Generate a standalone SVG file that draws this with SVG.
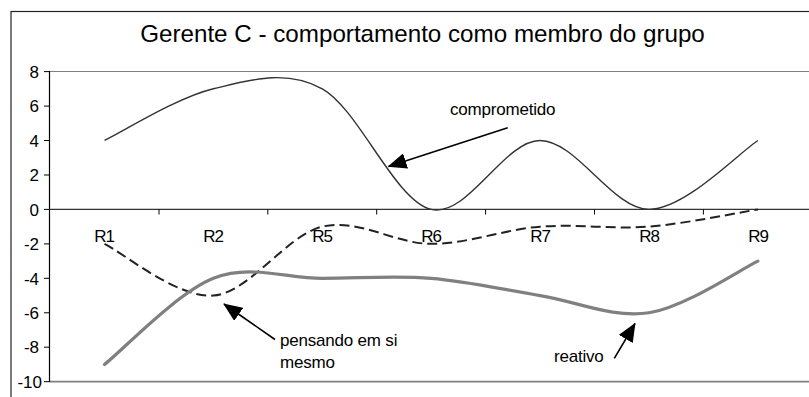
<svg xmlns="http://www.w3.org/2000/svg" width="809" height="397" viewBox="0 0 809 397">
<style>
text{font-family:"Liberation Sans",Arial,sans-serif;fill:#000}
.ylab{font-size:17px;text-anchor:end}
.xlab{font-size:17px;text-anchor:middle;letter-spacing:-1.2px}
.note{font-size:17px;letter-spacing:-0.2px}
.tick{stroke:#000;stroke-width:1}
.arrow{stroke:#000;stroke-width:1.6;fill:none}
</style>
<defs>
<marker id="ah" viewBox="0 0 19 16" refX="18" refY="8" markerWidth="19" markerHeight="16" markerUnits="userSpaceOnUse" orient="auto">
<path d="M0,0 L19,8 L0,16 z" fill="#000"/>
</marker>
</defs>
<rect width="809" height="397" fill="#fff"/>
<rect id="chart-border" x="11" y="11.5" width="830" height="420" fill="none" stroke="#222" stroke-width="1.2"/>
<text id="title" x="422.5" y="41.5" font-size="24.2" text-anchor="middle">Gerente C - comportamento como membro do grupo</text>
<g id="plot-frame">
<line x1="49.5" y1="71.5" x2="809" y2="71.5" stroke="#808080" stroke-width="1.2"/>
<line x1="49.5" y1="381.7" x2="809" y2="381.7" stroke="#808080" stroke-width="1.8"/>
<line x1="49.5" y1="71" x2="49.5" y2="382" stroke="#000" stroke-width="1.2"/>
<line x1="49.5" y1="209.4" x2="809" y2="209.4" stroke="#333" stroke-width="1.2"/>
</g>
<g id="y-axis">
<line class="tick" x1="44" y1="71.6" x2="49.5" y2="71.6"/>
<line class="tick" x1="44" y1="106.1" x2="49.5" y2="106.1"/>
<line class="tick" x1="44" y1="140.5" x2="49.5" y2="140.5"/>
<line class="tick" x1="44" y1="175" x2="49.5" y2="175"/>
<line class="tick" x1="44" y1="209.4" x2="49.5" y2="209.4"/>
<line class="tick" x1="44" y1="243.9" x2="49.5" y2="243.9"/>
<line class="tick" x1="44" y1="278.3" x2="49.5" y2="278.3"/>
<line class="tick" x1="44" y1="312.8" x2="49.5" y2="312.8"/>
<line class="tick" x1="44" y1="347.2" x2="49.5" y2="347.2"/>
<line class="tick" x1="44" y1="381.7" x2="49.5" y2="381.7"/>
<text class="ylab" x="39" y="77.8">8</text>
<text class="ylab" x="39" y="112.3">6</text>
<text class="ylab" x="39" y="146.7">4</text>
<text class="ylab" x="39" y="181.2">2</text>
<text class="ylab" x="39" y="215.6">0</text>
<text class="ylab" x="39" y="250.1">-2</text>
<text class="ylab" x="39" y="284.5">-4</text>
<text class="ylab" x="39" y="319">-6</text>
<text class="ylab" x="39" y="353.4">-8</text>
<text class="ylab" x="42" y="387.9">-10</text>
</g>
<g id="x-axis">
<line class="tick" x1="159" y1="209.4" x2="159" y2="214.5"/>
<line class="tick" x1="267.8" y1="209.4" x2="267.8" y2="214.5"/>
<line class="tick" x1="376.7" y1="209.4" x2="376.7" y2="214.5"/>
<line class="tick" x1="485.6" y1="209.4" x2="485.6" y2="214.5"/>
<line class="tick" x1="594.5" y1="209.4" x2="594.5" y2="214.5"/>
<line class="tick" x1="703.4" y1="209.4" x2="703.4" y2="214.5"/>
<text class="xlab" x="104" y="242">R1</text>
<text class="xlab" x="213" y="242">R2</text>
<text class="xlab" x="322" y="242">R5</text>
<text class="xlab" x="431" y="242">R6</text>
<text class="xlab" x="540" y="242">R7</text>
<text class="xlab" x="649" y="242">R8</text>
<text class="xlab" x="758" y="242">R9</text>
</g>
<g id="series-comprometido">
<path d="M104.5,140.48 C122.65,131.87 177.1,97.41 213.4,88.79 C249.7,80.18 286.0,68.69 322.3,88.79 C358.6,108.89 394.9,200.79 431.2,209.4 C467.5,218.02 503.8,140.48 540.1,140.48 C576.4,140.48 612.7,209.4 649.0,209.4 C685.3,209.4 739.75,151.97 757.9,140.48" fill="none" stroke="#333" stroke-width="1.4"/>
</g>
<g id="series-pensando">
<path d="M104.5,243.86 C122.65,252.48 177.1,298.42 213.4,295.55 C249.7,292.68 286.0,235.25 322.3,226.63 C358.6,218.02 394.9,243.86 431.2,243.86 C467.5,243.86 503.8,229.50 540.1,226.63 C576.4,223.76 612.7,229.50 649.0,226.63 C685.3,223.76 739.75,212.27 757.9,209.4" fill="none" stroke="#222" stroke-width="2" stroke-dasharray="10 5"/>
</g>
<g id="series-reativo">
<path d="M104.5,364.47 C122.65,350.11 177.1,292.68 213.4,278.32 C249.7,263.96 286.0,278.32 322.3,278.32 C358.6,278.32 394.9,275.45 431.2,278.32 C467.5,281.19 503.8,289.81 540.1,295.55 C576.4,301.29 612.7,318.52 649.0,312.78 C685.3,307.04 739.75,269.71 757.9,261.09" fill="none" stroke="#808080" stroke-width="3.2" stroke-linecap="round"/>
</g>
<g id="connectors">
<line class="arrow" x1="507.7" y1="127.7" x2="388.5" y2="166.5" marker-end="url(#ah)"/>
<line class="arrow" x1="275" y1="339.5" x2="224" y2="304" marker-end="url(#ah)"/>
<line class="arrow" x1="614.3" y1="358.3" x2="635" y2="323.5" marker-end="url(#ah)"/>
</g>
<g id="label-comprometido"><text class="note" x="450" y="115">comprometido</text></g>
<g id="label-pensando"><text class="note" x="280" y="346">pensando em si</text><text class="note" x="280" y="368">mesmo</text></g>
<g id="label-reativo"><text class="note" x="554" y="362">reativo</text></g>
</svg>
